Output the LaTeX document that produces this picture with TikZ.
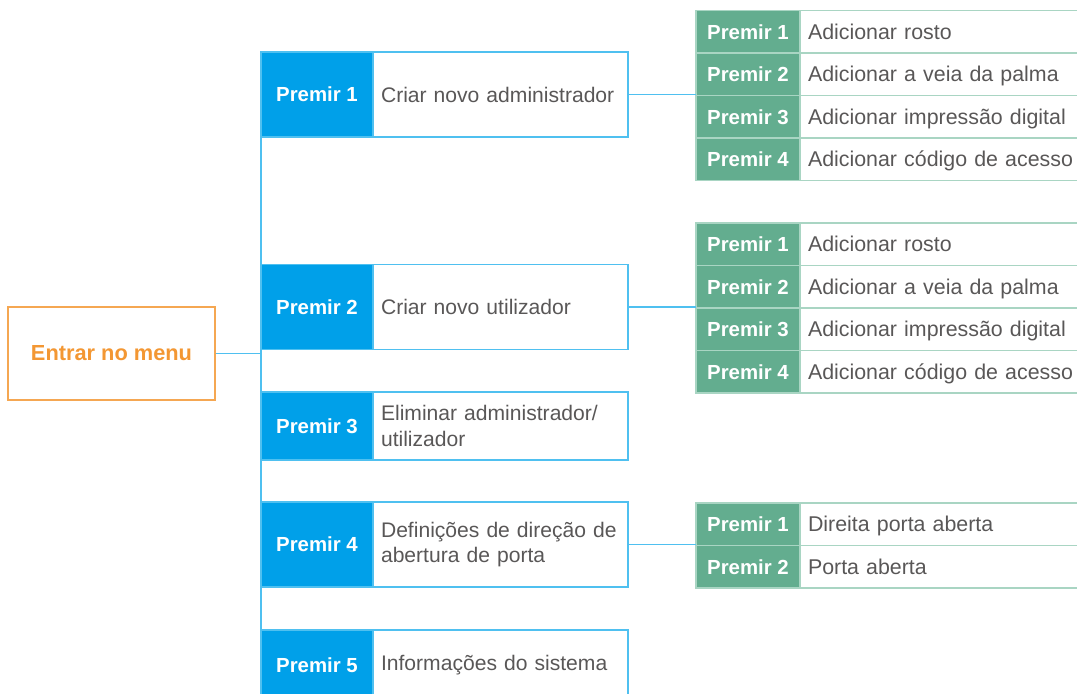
\documentclass[tikz,border=0pt]{standalone}
\usepackage{fontspec}
\setmainfont{Liberation Sans}
\usepackage{xcolor}
\usetikzlibrary{positioning}

\definecolor{keyblue}{HTML}{00A0E9}
\definecolor{lineblue}{HTML}{4FC0F0}
\definecolor{keygreen}{HTML}{63AD8F}
\definecolor{linegreen}{HTML}{A9D5C3}
\definecolor{menuorange}{HTML}{F39733}
\definecolor{textgray}{HTML}{595757}

\begin{document}
\begin{tikzpicture}[x=0.025cm, y=-0.025cm, node distance=0pt, line width=0.85pt,
    key/.style={fill=keyblue, draw=lineblue, text=white, inner sep=0pt, outer sep=0pt,
      font=\bfseries\fontsize{14.5}{17}\selectfont, minimum width=2.8cm, minimum height=2.125cm},
    desc/.style={draw=lineblue, text=textgray, font=\fontsize{15}{18}\selectfont, outer sep=0pt,
      text width=5.975cm, inner xsep=0.2cm, align=left, minimum height=2.125cm},
    gkey/.style={fill=keygreen, draw=linegreen, text=white, inner sep=0pt, outer sep=0pt,
      text height=10.5pt, text depth=0pt,
      font=\bfseries\fontsize{14.5}{17}\selectfont, minimum width=2.6cm, minimum height=1.0625cm},
    gdesc/.style={draw=linegreen, text=textgray, font=\fontsize{15.2}{18}\selectfont, outer sep=0pt,
      text height=10.5pt, text depth=0pt, inner ysep=0pt,
      text width=6.85cm, inner xsep=0.2cm, align=left, minimum height=1.0625cm},
    menu/.style={draw=menuorange!85, text=menuorange, font=\bfseries\fontsize{15.5}{18}\selectfont,
      minimum width=5.175cm, minimum height=2.325cm},
    link/.style={draw=lineblue}]

    \useasboundingbox (0,0) rectangle (1077,693);

    \node [menu] (menu) at (111.5,353.5) {Entrar no menu};

    \node [key] (k1) at (317,94.5) {Premir 1};
    \node [desc, right=of k1] (d1) {Criar novo administrador};
    \node [key] (k2) at (317,307) {Premir 2};
    \node [desc, right=of k2] (d2) {Criar novo utilizador};
    \node [key, minimum height=1.7cm] (k3) at (317,426) {Premir 3};
    \node [desc, right=of k3, minimum height=1.7cm] (d3) {Eliminar administrador/\\utilizador};
    \node [key] (k4) at (317,544.5) {Premir 4};
    \node [desc, right=of k4] (d4) {Definições de direção de\\abertura de porta};
    \node [key, minimum height=1.75cm] (k5) at (317,665) {Premir 5};
    \node [desc, right=of k5, minimum height=1.75cm] (d5) {Informações do sistema};

    \node [gkey] (a1) at (748,31.75) {Premir 1};
    \node [gdesc, right=of a1] (a1d) {Adicionar rosto};
    \node [gkey, below=of a1] (a2) {Premir 2};
    \node [gdesc, right=of a2] (a2d) {Adicionar a veia da palma};
    \node [gkey, below=of a2] (a3) {Premir 3};
    \node [gdesc, right=of a3] (a3d) {Adicionar impressão digital};
    \node [gkey, below=of a3] (a4) {Premir 4};
    \node [gdesc, right=of a4] (a4d) {Adicionar código de acesso};

    \node [gkey] (b1) at (748,244.25) {Premir 1};
    \node [gdesc, right=of b1] (b1d) {Adicionar rosto};
    \node [gkey, below=of b1] (b2) {Premir 2};
    \node [gdesc, right=of b2] (b2d) {Adicionar a veia da palma};
    \node [gkey, below=of b2] (b3) {Premir 3};
    \node [gdesc, right=of b3] (b3d) {Adicionar impressão digital};
    \node [gkey, below=of b3] (b4) {Premir 4};
    \node [gdesc, right=of b4] (b4d) {Adicionar código de acesso};

    \node [gkey] (c1) at (748,524.25) {Premir 1};
    \node [gdesc, right=of c1] (c1d) {Direita porta aberta};
    \node [gkey, below=of c1] (c2) {Premir 2};
    \node [gdesc, right=of c2] (c2d) {Porta aberta};

    \draw [link] (menu.east) -- (menu.east -| k1.west);
    \draw [link] (k1.south west) -- (k5.north west);
    \draw [link] (d1.east) -- (d1.east -| a3.west);
    \draw [link] (d2.east) -- (d2.east -| b3.west);
    \draw [link] (d4.east) -- (d4.east -| c2.west);
\end{tikzpicture}
\end{document}
